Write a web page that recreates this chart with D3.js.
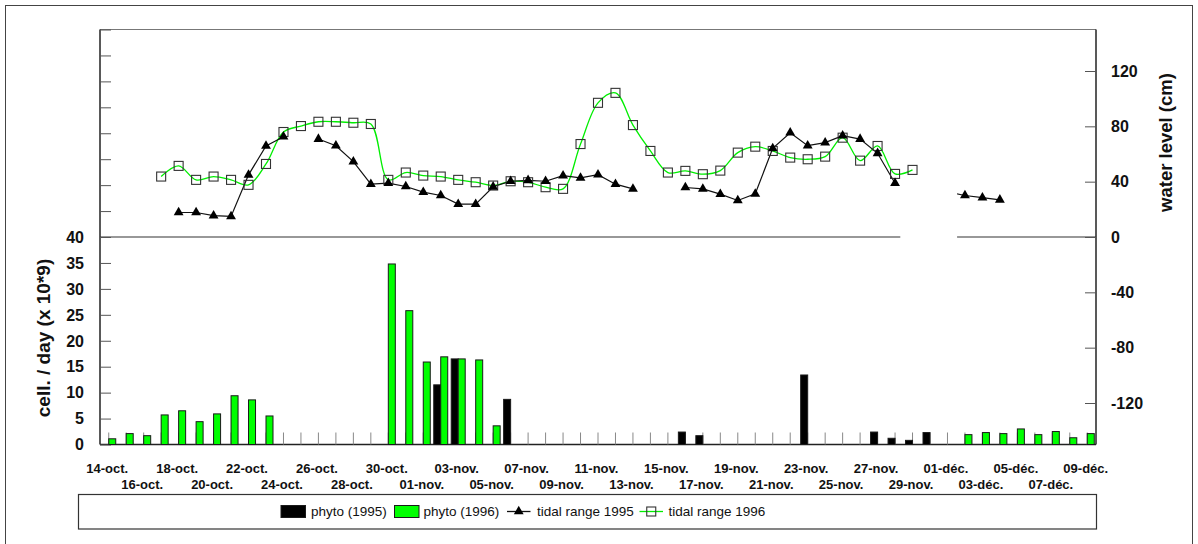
<!DOCTYPE html>
<html>
<head>
<meta charset="utf-8">
<script src="https://cdn.jsdelivr.net/npm/d3@7"></script>
<style>
  html, body { margin: 0; padding: 0; background: #fff; }
  svg { display: block; font-family: "Liberation Sans", Arial, sans-serif; }
</style>
</head>
<body>
<svg id="chart" width="1198" height="544"></svg>
<script>
// Daily categories, 14 Oct to 9 Dec
const dates = [
  "14-oct.","15-oct.","16-oct.","17-oct.","18-oct.","19-oct.","20-oct.","21-oct.","22-oct.","23-oct.",
  "24-oct.","25-oct.","26-oct.","27-oct.","28-oct.","29-oct.","30-oct.","31-oct.",
  "01-nov.","02-nov.","03-nov.","04-nov.","05-nov.","06-nov.","07-nov.","08-nov.","09-nov.","10-nov.",
  "11-nov.","12-nov.","13-nov.","14-nov.","15-nov.","16-nov.","17-nov.","18-nov.","19-nov.","20-nov.",
  "21-nov.","22-nov.","23-nov.","24-nov.","25-nov.","26-nov.","27-nov.","28-nov.","29-nov.","30-nov.",
  "01-déc.","02-déc.","03-déc.","04-déc.","05-déc.","06-déc.","07-déc.","08-déc.","09-déc."
];

// Phytoplankton flux, cell. / day (x 10*9)
const phyto1995 = [
  null,null,null,null,null,null,null,null,null,null,
  null,null,null,null,null,null,null,null,null,11.5,
  16.5,null,null,8.7,null,null,null,null,null,null,
  null,null,null,2.4,1.7,null,null,null,null,null,
  13.4,null,null,null,2.4,1.2,0.8,2.3,null,null,
  null,null,null,null,null,null,null
];
const phyto1996 = [
  1.1,2.1,1.7,5.7,6.5,4.4,5.9,9.4,8.6,5.5,
  null,null,null,null,null,null,34.8,25.8,15.9,16.9,
  16.5,16.3,3.6,null,null,null,null,null,null,null,
  null,null,null,null,null,null,null,null,null,null,
  null,null,null,null,null,null,null,null,null,1.9,
  2.3,2.1,3.0,1.9,2.5,1.3,2.1
];

// Tidal range, water level (cm)
const tidal1995 = [
  null,null,null,null,17.7,17.7,15.4,14.9,44.9,65.8,
  72.5,null,70.8,66.0,54.5,38.2,38.9,36.5,32.4,30.0,
  23.8,23.8,36.3,40.3,41.0,40.3,44.4,42.7,45.1,38.2,
  34.8,null,null,35.8,34.8,31.0,26.4,31.2,64.1,75.4,
  66.0,68.2,73.2,70.8,60.5,38.9,null,null,32.6,30.0,
  28.5,26.9,null,null,null,null,null
];
const tidal1996 = [
  null,null,null,43.7,51.4,41.3,43.7,41.3,37.7,52.8,
  75.9,80.2,83.3,83.3,82.6,81.7,41.3,46.6,44.4,43.7,
  41.3,39.6,37.2,40.3,39.6,36.0,34.8,67.2,97.0,104.2,
  80.9,62.2,46.6,47.8,45.4,48.0,61.0,65.3,62.2,57.4,
  56.2,58.1,71.8,55.2,65.8,45.6,48.5,null,null,null,
  null,null,null,null,null,null,null
];

// Axis ticks
const leftTicks = d3.range(0, 81, 5);
const leftLabels = [0, 5, 10, 15, 20, 25, 30, 35, 40];
const rightTicks = [-120, -80, -40, 0, 40, 80, 120];

// Legend entries
const legendItems = [
  { label: "phyto (1995)", kind: "bar", color: "#000000" },
  { label: "phyto (1996)", kind: "bar", color: "#00ff00" },
  { label: "tidal range 1995", kind: "tri", color: "#000000" },
  { label: "tidal range 1996", kind: "sq", color: "#00ff00" }
];

const svg = d3.select("#chart");
const plot = { left: 100, right: 1096, top: 29.5, bottom: 444.5 };

// outer frame
svg.append("rect").attr("x", 5.5).attr("y", 5.5).attr("width", 1187).attr("height", 545)
  .attr("fill", "#fff").attr("stroke", "#444").attr("stroke-width", 1);

const idx = dates.map((d, i) => i);
const x = d3.scaleBand().domain(idx).range([plot.left, plot.right]).padding(0);
const bw = x.bandwidth();
const cx = i => x(i) + bw / 2;
const xPos = d3.scaleLinear().domain([0, dates.length - 1]).range([cx(0), cx(dates.length - 1)]);
const xSub = d3.scaleBand().domain(["1995", "1996"]).range([bw / 2 - 7, bw / 2 + 7]);

const yL = d3.scaleLinear().domain([0, 80]).range([plot.bottom, plot.top]);
const yR = d3.scaleLinear().domain([-150, 150]).range([plot.bottom, plot.top]);

// plot frame
svg.append("line").attr("x1", plot.left).attr("x2", plot.right).attr("y1", plot.top).attr("y2", plot.top)
  .attr("stroke", "#777").attr("stroke-width", 1.2);
svg.append("line").attr("x1", plot.left).attr("x2", plot.right).attr("y1", plot.bottom).attr("y2", plot.bottom)
  .attr("stroke", "#222").attr("stroke-width", 1.5);
svg.append("line").attr("x1", plot.left).attr("x2", plot.left).attr("y1", plot.top).attr("y2", plot.bottom)
  .attr("stroke", "#222").attr("stroke-width", 1.5);
svg.append("line").attr("x1", plot.right).attr("x2", plot.right).attr("y1", plot.top).attr("y2", plot.bottom)
  .attr("stroke", "#222").attr("stroke-width", 1.5);

// zero line of the water-level axis
svg.append("line").attr("x1", plot.left).attr("x2", plot.right).attr("y1", yR(0)).attr("y2", yR(0))
  .attr("stroke", "#333").attr("stroke-width", 1.2);

// inner ticks, left axis
const gL = svg.append("g").attr("transform", `translate(${plot.left},0)`)
  .call(d3.axisRight(yL).tickValues(leftTicks).tickSize(11).tickFormat(""));
gL.select(".domain").remove();
gL.selectAll("line").attr("stroke", "#555");

// inner ticks, right axis
const gR = svg.append("g").attr("transform", `translate(${plot.right},0)`)
  .call(d3.axisLeft(yR).tickValues(rightTicks).tickSize(11).tickFormat(""));
gR.select(".domain").remove();
gR.selectAll("line").attr("stroke", "#555");

// tick labels
svg.append("g").selectAll("text").data(leftLabels).join("text")
  .attr("x", 84).attr("y", d => yL(d)).attr("dy", "0.36em")
  .attr("text-anchor", "end").attr("font-size", 16).attr("font-weight", "bold").attr("fill", "#111")
  .text(d => d);
svg.append("g").selectAll("text").data(rightTicks).join("text")
  .attr("x", 1111).attr("y", d => yR(d)).attr("dy", "0.36em")
  .attr("text-anchor", "start").attr("font-size", 16).attr("font-weight", "bold").attr("fill", "#111")
  .text(d => d);

// axis titles
svg.append("text").attr("transform", `translate(43.5,338) rotate(-90)`)
  .attr("text-anchor", "middle").attr("dy", "0.35em")
  .attr("font-size", 19).attr("font-weight", "bold").attr("fill", "#111")
  .text("cell. / day (x 10*9)");
svg.append("text").attr("transform", `translate(1166,142.5) rotate(-90)`)
  .attr("text-anchor", "middle").attr("dy", "0.35em")
  .attr("font-size", 18.5).attr("font-weight", "bold").attr("fill", "#111")
  .text("water level (cm)");

// category tick marks along the base
svg.append("g").selectAll("line").data(idx).join("line")
  .attr("x1", d => cx(d)).attr("x2", d => cx(d))
  .attr("y1", plot.bottom).attr("y2", plot.bottom - 12)
  .attr("stroke", "#888").attr("stroke-width", 1);

// bars
const barData = [];
idx.forEach(i => {
  if (phyto1995[i] != null) barData.push({ i, s: "1995", v: phyto1995[i], c: "#000000" });
  if (phyto1996[i] != null) barData.push({ i, s: "1996", v: phyto1996[i], c: "#00ff00" });
});
svg.append("g").selectAll("rect").data(barData).join("rect")
  .attr("x", d => x(d.i) + xSub(d.s))
  .attr("width", xSub.bandwidth())
  .attr("y", d => yL(d.v))
  .attr("height", d => yL(0) - yL(d.v))
  .attr("fill", d => d.c)
  .attr("stroke", "#1a1a1a").attr("stroke-width", 1);

// tidal range lines
const line1995 = d3.line().defined(d => d != null).x((d, i) => cx(i)).y(d => yR(d));
const line1996 = d3.line().defined(d => d != null).x((d, i) => cx(i)).y(d => yR(d))
  .curve(d3.curveCatmullRom.alpha(0.5));

svg.append("path").datum(tidal1996).attr("d", line1996)
  .attr("fill", "none").attr("stroke", "#00ee00").attr("stroke-width", 1.3);
svg.append("path").datum(tidal1995).attr("d", line1995)
  .attr("fill", "none").attr("stroke", "#111").attr("stroke-width", 1.2);

// blank box over the late-November gap
const maskFrom = 45.3, maskTo = 48.55, maskTop = 40, maskBottom = -3;
svg.append("rect")
  .attr("x", xPos(maskFrom)).attr("width", xPos(maskTo) - xPos(maskFrom))
  .attr("y", yR(maskTop)).attr("height", yR(maskBottom) - yR(maskTop))
  .attr("fill", "#fff");

const tri = d3.symbol().type(d3.symbolTriangle).size(42);

// markers 1996: open squares
svg.append("g").selectAll("rect")
  .data(tidal1996.map((v, i) => ({ v, i })).filter(d => d.v != null))
  .join("rect")
  .attr("x", d => cx(d.i) - 4.5).attr("y", d => yR(d.v) - 4.5)
  .attr("width", 9).attr("height", 9)
  .attr("fill", "none").attr("stroke", "#333").attr("stroke-width", 1.1);

// markers 1995: filled triangles (the masked point stays hidden)
svg.append("g").selectAll("path")
  .data(tidal1995.map((v, i) => ({ v, i })).filter(d => d.v != null && !(d.i > maskFrom && d.i < maskTo)))
  .join("path")
  .attr("transform", d => `translate(${cx(d.i)},${yR(d.v)})`)
  .attr("d", tri).attr("fill", "#000");

// date labels on two staggered rows
svg.append("g").selectAll("text")
  .data(idx.filter(i => i % 2 === 0))
  .join("text")
  .attr("x", i => cx(i) - 1.5)
  .attr("y", i => (i % 4 === 0) ? 473 : 489)
  .attr("text-anchor", "middle").attr("font-size", 13).attr("font-weight", "bold").attr("fill", "#111")
  .text(i => dates[i]);

// legend
const lg = svg.append("g");
lg.append("rect").attr("x", 78.5).attr("y", 494.5).attr("width", 1018).attr("height", 34.5)
  .attr("fill", "#fff").attr("stroke", "#333").attr("stroke-width", 1.2);
const legendX = [281, 394.5, 507, 639.5];
const legendTextX = [311, 423.5, 537, 668.5];
const ly = 511.5;
legendItems.forEach((it, k) => {
  const g = lg.append("g");
  if (it.kind === "bar") {
    g.append("rect").attr("x", legendX[k]).attr("y", ly - 6).attr("width", 24.5).attr("height", 12)
      .attr("fill", it.color).attr("stroke", "#1a1a1a").attr("stroke-width", 1);
  } else {
    g.append("line").attr("x1", legendX[k]).attr("x2", legendX[k] + 23.5).attr("y1", ly).attr("y2", ly)
      .attr("stroke", it.kind === "sq" ? "#00ee00" : "#111").attr("stroke-width", 1.3);
    if (it.kind === "tri") {
      g.append("path").attr("transform", `translate(${legendX[k] + 11.75},${ly})`)
        .attr("d", tri).attr("fill", "#000");
    } else {
      g.append("rect").attr("x", legendX[k] + 11.75 - 4.5).attr("y", ly - 4.5).attr("width", 9).attr("height", 9)
        .attr("fill", "none").attr("stroke", "#333").attr("stroke-width", 1.1);
    }
  }
  g.append("text").attr("x", legendTextX[k]).attr("y", ly).attr("dy", "0.36em")
    .attr("font-size", 13.5).attr("fill", "#111").text(it.label);
});
</script>
</body>
</html>
